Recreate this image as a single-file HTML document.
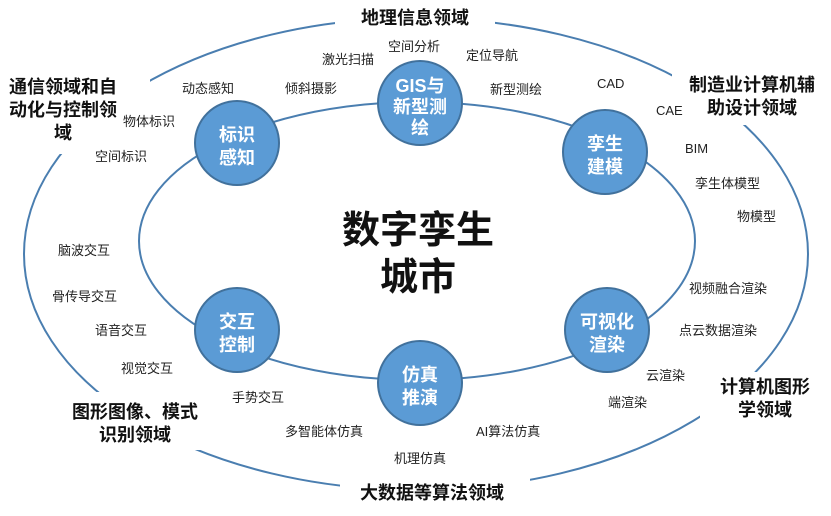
<!DOCTYPE html>
<html><head><meta charset="utf-8"><style>
body{margin:0;background:#fff;}
svg text{font-family:"Liberation Sans","Noto Sans CJK SC",sans-serif;}
.s{font-size:13px;fill:#222;}
.b{font-size:18px;font-weight:bold;fill:#111;}
.c{font-size:18px;font-weight:bold;fill:#fff;}
</style></head><body>
<svg width="831" height="511" viewBox="0 0 831 511">
<ellipse cx="416" cy="254" rx="392" ry="236" fill="none" stroke="#4a7eb0" stroke-width="2"/>
<ellipse cx="417" cy="241" rx="278" ry="139" fill="none" stroke="#4a7eb0" stroke-width="2"/>
<rect x="335" y="4" width="160" height="28" fill="#fff"/>
<rect x="0" y="72" width="150" height="82" fill="#fff"/>
<rect x="672" y="70" width="159" height="55" fill="#fff"/>
<rect x="700" y="372" width="131" height="56" fill="#fff"/>
<rect x="55" y="392" width="150" height="58" fill="#fff"/>
<rect x="340" y="475" width="190" height="36" fill="#fff"/>
<g class="b">
<text x="415" y="24" text-anchor="middle">地理信息领域</text>
<text x="63" y="93" text-anchor="middle">通信领域和自</text>
<text x="63" y="116" text-anchor="middle">动化与控制领</text>
<text x="63" y="139" text-anchor="middle">域</text>
<text x="752" y="91" text-anchor="middle">制造业计算机辅</text>
<text x="752" y="114" text-anchor="middle">助设计领域</text>
<text x="765" y="393" text-anchor="middle">计算机图形</text>
<text x="765" y="416" text-anchor="middle">学领域</text>
<text x="135" y="418" text-anchor="middle">图形图像、模式</text>
<text x="135" y="441" text-anchor="middle">识别领域</text>
<text x="432" y="499" text-anchor="middle">大数据等算法领域</text>
</g>
<g fill="#5b9bd5" stroke="#41719c" stroke-width="2">
<circle cx="237" cy="143" r="42"/>
<circle cx="420" cy="103" r="42"/>
<circle cx="605" cy="152" r="42"/>
<circle cx="607" cy="330" r="42"/>
<circle cx="420" cy="383" r="42"/>
<circle cx="237" cy="330" r="42"/>
</g>
<g class="c" text-anchor="middle">
<text x="237" y="141">标识</text><text x="237" y="164">感知</text>
<text x="420" y="92">GIS与</text><text x="420" y="113">新型测</text><text x="420" y="134">绘</text>
<text x="605" y="150">孪生</text><text x="605" y="173">建模</text>
<text x="607" y="328">可视化</text><text x="607" y="351">渲染</text>
<text x="420" y="381">仿真</text><text x="420" y="404">推演</text>
<text x="237" y="328">交互</text><text x="237" y="351">控制</text>
</g>
<g font-size="38" font-weight="bold" fill="#111" text-anchor="middle">
<text x="418" y="243">数字孪生</text>
<text x="418" y="290">城市</text>
</g>
<g class="s">
<text x="388" y="51">空间分析</text>
<text x="322" y="64">激光扫描</text>
<text x="466" y="60">定位导航</text>
<text x="182" y="93">动态感知</text>
<text x="285" y="93">倾斜摄影</text>
<text x="490" y="94">新型测绘</text>
<text x="123" y="126">物体标识</text>
<text x="95" y="161">空间标识</text>
<text x="597" y="88">CAD</text>
<text x="656" y="115">CAE</text>
<text x="685" y="153">BIM</text>
<text x="695" y="188">孪生体模型</text>
<text x="737" y="221">物模型</text>
<text x="58" y="255">脑波交互</text>
<text x="52" y="301">骨传导交互</text>
<text x="95" y="335">语音交互</text>
<text x="121" y="373">视觉交互</text>
<text x="689" y="293">视频融合渲染</text>
<text x="679" y="335">点云数据渲染</text>
<text x="646" y="380">云渲染</text>
<text x="608" y="407">端渲染</text>
<text x="232" y="402">手势交互</text>
<text x="285" y="436">多智能体仿真</text>
<text x="476" y="436">AI算法仿真</text>
<text x="394" y="463">机理仿真</text>
</g>
</svg>
</body></html>
